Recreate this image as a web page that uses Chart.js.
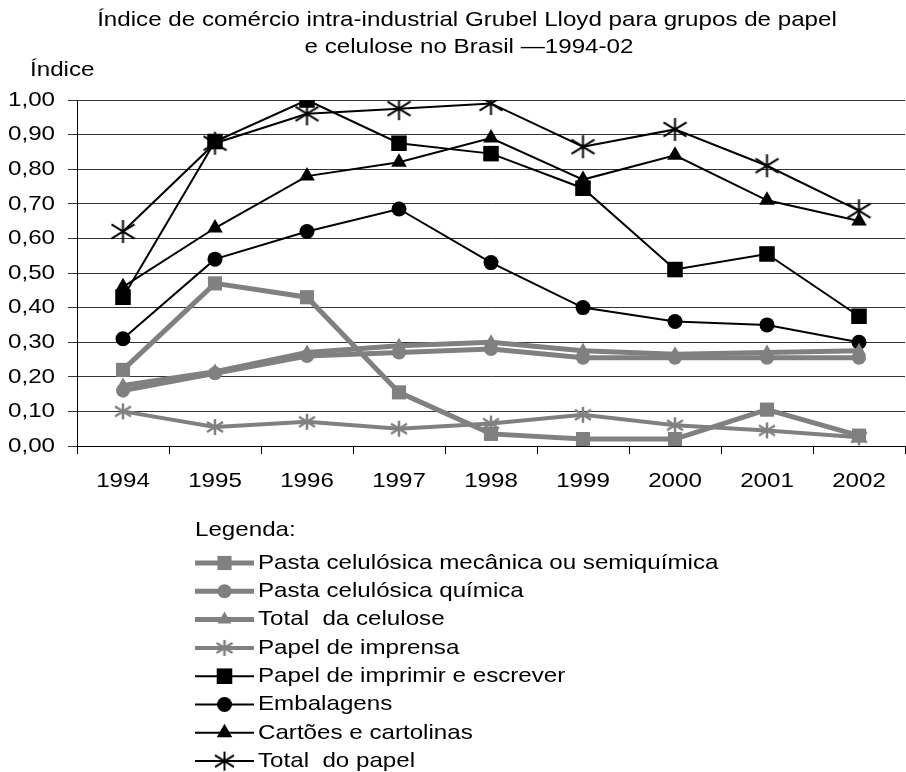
<!DOCTYPE html>
<html>
<head>
<meta charset="utf-8">
<script src="https://cdn.jsdelivr.net/npm/chart.js@4/dist/chart.umd.min.js"></script>
<style>
  html,body{margin:0;padding:0;background:#fff;overflow:hidden;}
  canvas{display:block;}
</style>
</head>
<body>
<canvas id="ch" width="906" height="772"></canvas>
<script>
const years = ['1994','1995','1996','1997','1998','1999','2000','2001','2002'];
const yTicks = [0,0.1,0.2,0.3,0.4,0.5,0.6,0.7,0.8,0.9,1.0];

const pastaMecanica = [0.22, 0.47, 0.43, 0.155, 0.035, 0.02, 0.02, 0.105, 0.03];
const pastaQuimica  = [0.16, 0.21, 0.26, 0.27, 0.28, 0.255, 0.255, 0.255, 0.255];
const totalCelulose = [0.175, 0.215, 0.27, 0.29, 0.30, 0.275, 0.265, 0.27, 0.275];
const papelImprensa = [0.10, 0.055, 0.07, 0.05, 0.065, 0.09, 0.06, 0.045, 0.025];
const papelImprimir = [0.43, 0.88, 1.00, 0.875, 0.845, 0.745, 0.51, 0.555, 0.375];
const embalagens    = [0.31, 0.54, 0.62, 0.685, 0.53, 0.40, 0.36, 0.35, 0.30];
const cartoes       = [0.46, 0.63, 0.78, 0.82, 0.89, 0.77, 0.84, 0.71, 0.65];
const totalPapel    = [0.62, 0.875, 0.96, 0.975, 0.99, 0.865, 0.915, 0.81, 0.68];

const GRAY = '#808080', BLACK = '#000';
const FONT = 'Arial, "Liberation Sans", sans-serif';
const SX = 1.15; // the source text is drawn a little wide

// asterisk marker (vertical bar + X), the built-in 'star' has 8 spokes
function asterisk(size, color, lw){
  const c = document.createElement('canvas');
  c.width = size; c.height = size;
  const g = c.getContext('2d');
  g.strokeStyle = color; g.lineWidth = lw;
  const m = size/2, r = size/2 - 1;
  g.beginPath();
  g.moveTo(m, m-r); g.lineTo(m, m+r);
  g.moveTo(m-r, m-r*0.62); g.lineTo(m+r, m+r*0.62);
  g.moveTo(m-r, m+r*0.62); g.lineTo(m+r, m-r*0.62);
  g.stroke();
  return c;
}
const starBlack = asterisk(25, BLACK, 2);
const starGray  = asterisk(18, GRAY, 2.5);
const starBlackSm = asterisk(21, BLACK, 2);

function ds(label, data, color, width, style, radius){
  return { label, data, borderColor: color, backgroundColor: color, borderWidth: width,
    pointStyle: style, pointRadius: radius, pointHoverRadius: radius,
    pointBorderWidth: 0, pointBackgroundColor: color, pointBorderColor: color, tension: 0 };
}

const datasets = [
  ds('Pasta celulósica mecânica ou semiquímica', pastaMecanica, GRAY, 5, 'rect', 10),
  ds('Pasta celulósica química', pastaQuimica, GRAY, 5, 'circle', 7),
  ds('Total  da celulose', totalCelulose, GRAY, 5, 'triangle', 8),
  ds('Papel de imprensa', papelImprensa, GRAY, 4, starGray, 9),
  ds('Papel de imprimir e escrever', papelImprimir, BLACK, 2, 'rect', 11),
  ds('Embalagens', embalagens, BLACK, 2, 'circle', 7.5),
  ds('Cartões e cartolinas', cartoes, BLACK, 2, 'triangle', 9),
  ds('Total  do papel', totalPapel, BLACK, 2, starBlack, 12)
];

function txt(ctx, s, x, y, align){
  ctx.save();
  ctx.translate(x, y); ctx.scale(SX, 1);
  ctx.textAlign = align; ctx.fillText(s, 0, 0);
  ctx.restore();
}

const decor = {
  id: 'decor',
  afterDraw(chart){
    const ctx = chart.ctx;
    const xs = chart.scales.x, ys = chart.scales.y;
    ctx.save();
    ctx.fillStyle = '#000';
    ctx.textBaseline = 'middle';
    ctx.font = '21px ' + FONT;
    txt(ctx, 'Índice de comércio intra-industrial Grubel Lloyd para grupos de papel', 467, 20, 'center');
    txt(ctx, 'e celulose no Brasil —1994-02', 469, 47, 'center');
    txt(ctx, 'Índice', 30, 70, 'left');
    // tick labels from the scales
    yTicks.forEach(v => txt(ctx, v.toFixed(2).replace('.', ','), 55, ys.getPixelForValue(v), 'right'));
    years.forEach((l, i) => txt(ctx, l, xs.getPixelForTick(i), 481, 'center'));
    // legend
    txt(ctx, 'Legenda:', 195, 530, 'left');
    chart.data.datasets.forEach((d, i) => {
      const y = 563 + i*28.3;
      ctx.strokeStyle = d.borderColor;
      ctx.lineWidth = d.borderWidth;
      ctx.beginPath(); ctx.moveTo(195, y); ctx.lineTo(254, y); ctx.stroke();
      ctx.fillStyle = d.borderColor;
      const ps = d.pointStyle === starBlack ? starBlackSm : d.pointStyle;
      Chart.helpers.drawPoint(ctx, {
        pointStyle: ps, radius: d.pointRadius, rotation: 0, borderWidth: 0
      }, 224.5, y);
      ctx.fillStyle = '#000';
      txt(ctx, d.label, 258, y, 'left');
    });
    ctx.restore();
  }
};

new Chart(document.getElementById('ch'), {
  type: 'line',
  data: { labels: years, datasets },
  options: {
    responsive: false, animation: false,
    layout: { autoPadding: false, padding: { top: 100, left: 0, right: 1, bottom: 276 } },
    plugins: { legend: { display: false }, title: { display: false }, tooltip: { enabled: false } },
    scales: {
      x: {
        offset: true,
        afterFit(s){ s.height = 50; },
        grid: { offset: true, drawOnChartArea: false, tickLength: 8, color: '#000', lineWidth: 1 },
        border: { color: '#000', width: 1 },
        ticks: { display: false }
      },
      y: {
        min: 0, max: 1,
        afterFit(s){ s.width = 77; },
        afterBuildTicks(s){ s.ticks = yTicks.map(v => ({ value: v })); },
        grid: { color: '#333', lineWidth: 1, tickLength: 9, drawTicks: true },
        border: { color: '#000', width: 1 },
        ticks: { display: false }
      }
    }
  },
  plugins: [decor]
});
</script>
</body>
</html>
